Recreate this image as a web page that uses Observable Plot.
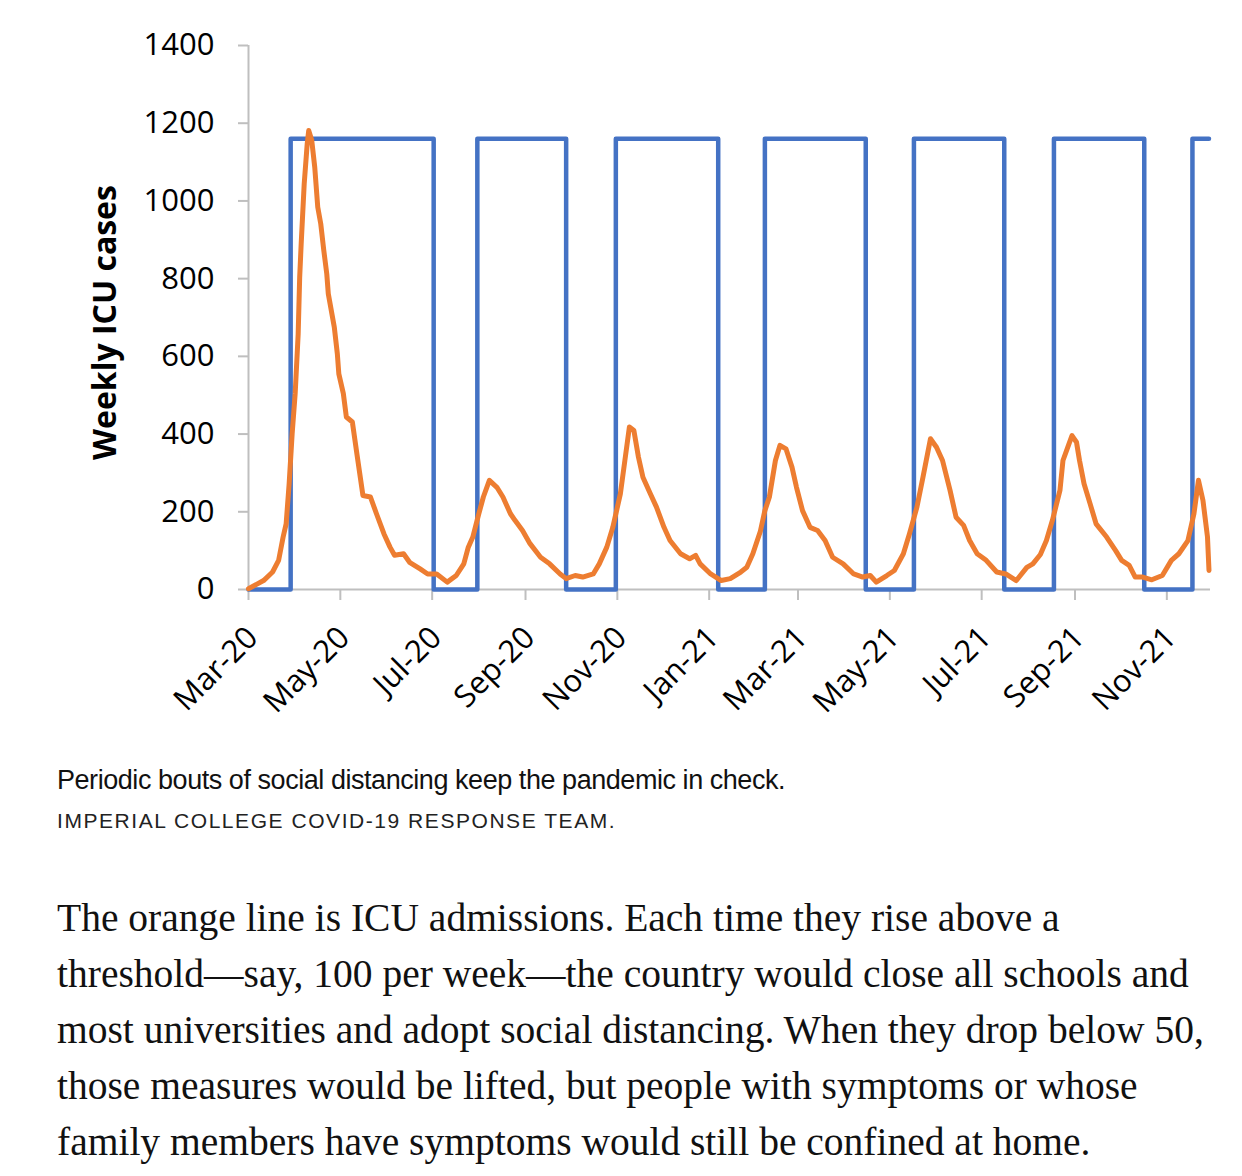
<!DOCTYPE html>
<html>
<head>
<meta charset="utf-8">
<script src="https://cdn.jsdelivr.net/npm/d3@7"></script>
<script src="https://cdn.jsdelivr.net/npm/@observablehq/plot@0.6"></script>
<style>
  html, body { margin: 0; padding: 0; background: #fff; }
  body { width: 1242px; }
  #chart svg { display: block; }
  .caption { font-family: "Liberation Sans", Arial, sans-serif; font-size: 27px; line-height: 32px; letter-spacing: -0.45px; color: #111; padding-left: 57px; margin-top: 14px; white-space: nowrap; }
  .credit { font-family: "Liberation Sans", Arial, sans-serif; font-size: 21px; line-height: 26px; letter-spacing: 1.55px; color: #222; padding-left: 57px; margin-top: 12px; white-space: nowrap; }
  .text { font-family: "Liberation Serif", "Times New Roman", serif; font-size: 39.5px; line-height: 56px; color: #111; padding-left: 57px; margin-top: 56px; white-space: nowrap; }
</style>
</head>
<body>
<div id="chart"></div>
<div class="caption">Periodic bouts of social distancing keep the pandemic in check.</div>
<div class="credit">IMPERIAL COLLEGE COVID-19 RESPONSE TEAM.</div>
<div class="text">The orange line is ICU admissions. Each time they rise above a<br>threshold—say, 100 per week—the country would close all schools and<br>most universities and adopt social distancing. When they drop below 50,<br>those measures would be lifted, but people with symptoms or whose<br>family members have symptoms would still be confined at home.</div>
<script>
// ---- Data ----
const icuDates = [
  "2020-03-01","2020-03-11","2020-03-17","2020-03-21","2020-03-24","2020-03-26","2020-03-28","2020-03-30",
  "2020-04-01","2020-04-03","2020-04-04","2020-04-05","2020-04-07","2020-04-09","2020-04-10","2020-04-12",
  "2020-04-14","2020-04-16","2020-04-18","2020-04-20","2020-04-22","2020-04-23","2020-04-27","2020-04-29",
  "2020-04-30","2020-05-03","2020-05-05","2020-05-09","2020-05-12","2020-05-16","2020-05-21","2020-05-25",
  "2020-05-30","2020-06-03","2020-06-06","2020-06-12","2020-06-16","2020-06-23","2020-06-28","2020-07-04",
  "2020-07-11","2020-07-17","2020-07-22","2020-07-25","2020-07-28","2020-08-01","2020-08-04","2020-08-08",
  "2020-08-13","2020-08-17","2020-08-22","2020-08-25","2020-08-30","2020-09-04","2020-09-11","2020-09-17",
  "2020-09-24","2020-09-28","2020-10-04","2020-10-09","2020-10-16","2020-10-20","2020-10-25","2020-10-29",
  "2020-11-03","2020-11-06","2020-11-09","2020-11-12","2020-11-15","2020-11-18","2020-11-23","2020-11-27",
  "2020-12-02","2020-12-06","2020-12-13","2020-12-19","2020-12-23","2020-12-26","2021-01-02","2021-01-09",
  "2021-01-15","2021-01-22","2021-01-26","2021-01-30","2021-02-04","2021-02-07","2021-02-10","2021-02-14",
  "2021-02-17","2021-02-21","2021-02-25","2021-02-28","2021-03-04","2021-03-09","2021-03-14","2021-03-19",
  "2021-03-24","2021-03-31","2021-04-07","2021-04-13","2021-04-18","2021-04-22","2021-04-29","2021-05-04",
  "2021-05-10","2021-05-14","2021-05-19","2021-05-23","2021-05-28","2021-06-01","2021-06-05","2021-06-10",
  "2021-06-14","2021-06-19","2021-06-23","2021-06-28","2021-07-04","2021-07-11","2021-07-17","2021-07-24",
  "2021-07-31","2021-08-04","2021-08-09","2021-08-13","2021-08-17","2021-08-22","2021-08-24","2021-08-28",
  "2021-08-30","2021-09-02","2021-09-04","2021-09-07","2021-09-11","2021-09-15","2021-09-22","2021-09-28",
  "2021-10-02","2021-10-07","2021-10-11","2021-10-16","2021-10-22","2021-10-29","2021-11-04","2021-11-09",
  "2021-11-15","2021-11-19","2021-11-22","2021-11-25","2021-11-28","2021-11-29"
];
const icuValues = [
  2, 23, 45, 75, 135, 169, 272, 401,
  504, 658, 804, 890, 1044, 1147, 1181, 1156,
  1087, 984, 941, 873, 812, 761, 675, 607,
  555, 504, 444, 431, 349, 242, 238, 195,
  143, 109, 88, 92, 70, 53, 40, 40,
  19, 36, 66, 109, 135, 195, 238, 281,
  263, 238, 195, 178, 152, 118, 83, 66,
  40, 28, 36, 32, 40, 66, 109, 160,
  246, 332, 418, 409, 341, 289, 246, 212,
  160, 126, 92, 79, 88, 66, 40, 23,
  28, 45, 57, 92, 150, 203, 238, 332,
  371, 362, 315, 263, 203, 160, 152, 126,
  83, 66, 40, 32, 36, 19, 36, 49,
  92, 143, 212, 289, 388, 366, 332, 255,
  186, 165, 126, 92, 75, 45, 40, 23,
  57, 66, 90, 126, 178, 255, 332, 375,
  396, 379, 332, 272, 221, 169, 135, 100,
  75, 62, 32, 32, 25, 36, 75, 92,
  126, 195, 281, 229, 135, 49
];

// Social-distancing on/off switch (step line)
const switchDates = [
  "2020-03-01","2020-03-29","2020-07-02","2020-07-31","2020-09-28","2020-10-31","2021-01-07",
  "2021-02-07","2021-04-15","2021-05-17","2021-07-16","2021-08-18","2021-10-17","2021-11-18","2021-11-29"
];
const switchValues = [0, 1160, 0, 1160, 0, 1160, 0, 1160, 0, 1160, 0, 1160, 0, 1160, 1160];

const xDomain = ["2020-03-01", "2021-11-30"];
const yTicks = [0, 200, 400, 600, 800, 1000, 1200, 1400];
const xTickDates = ["2020-03-01","2020-05-01","2020-07-01","2020-09-01","2020-11-01","2021-01-01",
                    "2021-03-01","2021-05-01","2021-07-01","2021-09-01","2021-11-01"];
const xTickLabels = ["Mar-20","May-20","Jul-20","Sep-20","Nov-20","Jan-21",
                     "Mar-21","May-21","Jul-21","Sep-21","Nov-21"];
const yTitle = "Weekly ICU cases";

// ---- Build tables ----
const parse = d3.utcParse("%Y-%m-%d");
const icu = icuDates.map((d, i) => ({date: parse(d), value: icuValues[i]}));
const sw = switchDates.map((d, i) => ({date: parse(d), value: switchValues[i]}));
const tickDates = xTickDates.map(parse);
const labelOf = new Map(tickDates.map((d, i) => [+d, xTickLabels[i]]));

const axisGrey = "#bfbfbf";

const chart = Plot.plot({
  width: 1242,
  height: 750,
  marginLeft: 248,
  marginRight: 32,
  marginTop: 45,
  marginBottom: 161,
  style: {fontFamily: "'Open Sans', sans-serif", fontSize: "31px", color: "#000", background: "#fff"},
  x: {type: "utc", domain: xDomain.map(parse)},
  y: {domain: [0, 1400]},
  marks: [
    Plot.ruleY([0], {stroke: axisGrey, strokeWidth: 2}),
    Plot.ruleX([parse(xDomain[0])], {stroke: axisGrey, strokeWidth: 2}),
    Plot.axisY({ticks: yTicks, tickFormat: d => String(d), tickSize: 10, tickPadding: 24, stroke: axisGrey, strokeWidth: 2, label: null, fontSize: 31}),
    // tick marks only
    Plot.axisX({ticks: tickDates, tickFormat: () => "", tickSize: 11, stroke: axisGrey, strokeWidth: 2, label: null}),
    // rotated tick labels
    Plot.axisX({ticks: tickDates, tickFormat: d => labelOf.get(+d), tickSize: 0, tickPadding: 43, dx: 4, tickRotate: -45,
                label: null, fontSize: 31}),
    Plot.text([yTitle], {frameAnchor: "left", textAnchor: "middle", rotate: -90, dx: -143, dy: 5, fontWeight: "bold", fontSize: 32, fill: "#000"}),
    Plot.line(sw, {x: "date", y: "value", curve: "step-after", stroke: "#4472c4", strokeWidth: 4.5}),
    Plot.line(icu, {x: "date", y: "value", stroke: "#ed7d31", strokeWidth: 5, strokeLinejoin: "round", strokeLinecap: "round"})
  ]
});
document.getElementById("chart").append(chart);
</script>
</body>
</html>
